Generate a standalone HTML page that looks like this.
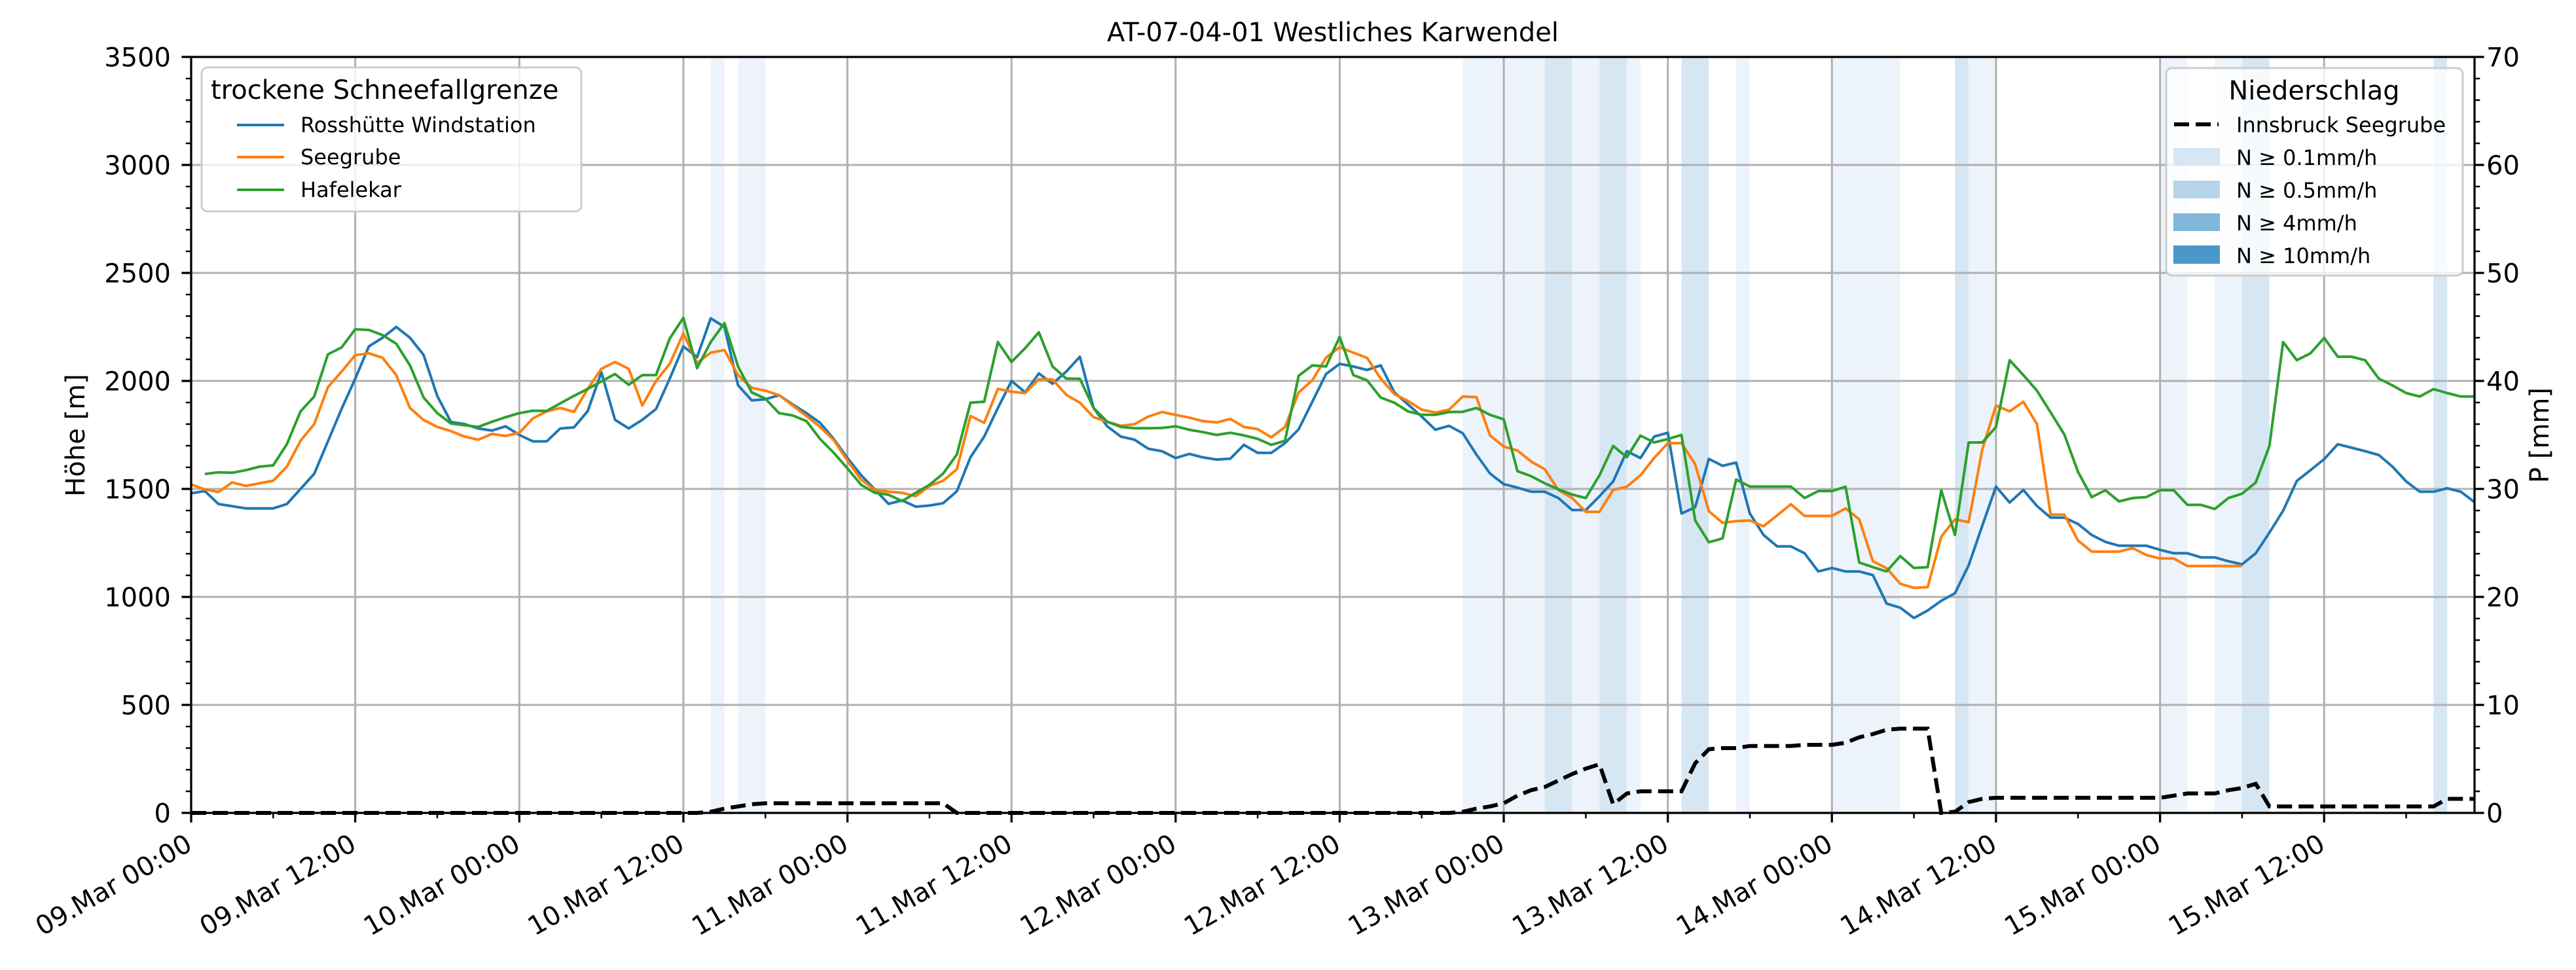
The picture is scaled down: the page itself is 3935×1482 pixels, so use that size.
<!DOCTYPE html>
<html><head><meta charset="utf-8">
<style>
html,body{margin:0;padding:0;background:#fff;}
svg text{font-family:"DejaVu Sans","Liberation Sans",sans-serif;fill:#000;}
</style></head>
<body>
<svg id="chart" width="3935" height="1477" viewBox="0 0 3935 1477" xmlns="http://www.w3.org/2000/svg">
<rect x="0" y="0" width="3935" height="1477" fill="#fff"/>
<g id="bands"></g>
<g id="grid"></g>
<g id="series"></g>
<g id="axes"></g>
<text x="2036" y="63" font-size="40" text-anchor="middle">AT-07-04-01 Westliches Karwendel</text>
<text transform="translate(129,665) rotate(-90)" font-size="40" text-anchor="middle">Höhe [m]</text>
<text transform="translate(3893,665) rotate(-90)" font-size="40" text-anchor="middle">P [mm]</text>

<g>
<rect x="308" y="103" width="580" height="220" rx="9" fill="#fff" fill-opacity="0.8" stroke="#cccccc" stroke-width="3"/>
<text x="322" y="151" font-size="40">trockene Schneefallgrenze</text>
<g><line x1="362" y1="191" x2="434" y2="191" stroke="#1f77b4" stroke-width="4"/><text x="459" y="202" font-size="32">Rosshütte Windstation</text></g>
<g><line x1="362" y1="240" x2="434" y2="240" stroke="#ff7f0e" stroke-width="4"/><text x="459" y="251" font-size="32">Seegrube</text></g>
<g><line x1="362" y1="290" x2="434" y2="290" stroke="#2ca02c" stroke-width="4"/><text x="459" y="301" font-size="32">Hafelekar</text></g>
</g>

<g>
<rect x="3309" y="104" width="453" height="317" rx="9" fill="#fff" fill-opacity="0.8" stroke="#cccccc" stroke-width="3"/>
<text x="3535" y="152" font-size="40" text-anchor="middle">Niederschlag</text>
<g><line x1="3321" y1="190" x2="3389" y2="190" stroke="#000" stroke-width="6" stroke-dasharray="23,10"/><text x="3416" y="202" font-size="32">Innsbruck Seegrube</text></g>
<g><rect x="3320" y="226" width="71" height="27" fill="#d6e6f4"/><text x="3416" y="252" font-size="32">N ≥ 0.1mm/h</text></g>
<g><rect x="3320" y="276" width="71" height="27" fill="#b5d4e9"/><text x="3416" y="302" font-size="32">N ≥ 0.5mm/h</text></g>
<g><rect x="3320" y="326" width="71" height="27" fill="#7fb6d9"/><text x="3416" y="352" font-size="32">N ≥ 4mm/h</text></g>
<g><rect x="3320" y="375" width="71" height="28" fill="#4a98c9"/><text x="3416" y="402" font-size="32">N ≥ 10mm/h</text></g>
</g>
</svg>
<script>
// hourly data, hour 0 = 09.Mar 00:00
const rosshuette = [1480,1490,1430,1420,1410,1410,1410,1430,1500,1570,1720,1870,2010,2160,2200,2250,2200,2120,1930,1810,1800,1780,1770,1790,1750,1720,1720,1780,1785,1860,2040,1820,1780,1820,1870,2010,2160,2110,2290,2250,1980,1910,1915,
1934,1891,1851,1806,1731,1643,1564,1498,1431,1447,1418,1423,1434,1489,1647,1742,1875,2000,1947,2035,1987,2043,2112,1875,1790,1742,1728,1686,1675,1643,1662,1646,1636,1640,1704,1667,1667,1712,1776,1904,2032,2079,
2067,2051,2072,1947,1891,1835,1774,1792,1758,1659,1571,1522,1506,1487,1487,1458,1402,1402,1466,1535,1675,1643,1742,1760,1386,1415,1639,1607,1622,1386,1287,1234,1234,1202,1118,1134,1118,1118,1101,969,950,902,
937,982,1017,1146,1330,1511,1437,1495,1421,1367,1367,1338,1287,1255,1237,1237,1237,1218,1202,1202,1183,1183,1165,1151,1202,1298,1399,1537,1587,1638,1707,1691,1675,1657,1603,1535,1487,1487,1503,1487,1439];
const seegrube = [1521,1498,1486,1530,1514,1526,1538,1603,1723,1800,1971,2043,2119,2128,2107,2027,1875,1819,1787,1768,1742,1728,1755,1745,1760,1827,1859,1875,1857,1963,2056,2088,2056,1886,2000,2079,2220,2083,2131,2143,2027,1968,1955,
1934,1886,1838,1787,1726,1631,1543,1495,1487,1482,1466,1514,1538,1591,1838,1806,1963,1950,1944,2008,2007,1936,1899,1832,1811,1792,1800,1835,1856,1843,1830,1814,1808,1824,1787,1777,1739,1787,1947,2003,2108,2156,
2131,2107,2011,1939,1907,1867,1854,1867,1928,1925,1747,1696,1678,1627,1591,1495,1458,1394,1394,1495,1511,1563,1643,1712,1712,1614,1397,1343,1351,1354,1327,1378,1429,1375,1375,1375,1410,1359,1165,1133,1061,1042,
1045,1279,1359,1346,1683,1886,1859,1904,1800,1381,1381,1261,1210,1210,1210,1226,1194,1178,1178,1143,1143,1143,1143,1143,
null,null,null,null,null,null,null,null,null,null,null,null,null,null,null,null,null];
const hafelekar = [null,1569,1577,1575,1587,1603,1609,1707,1859,1928,2123,2155,2239,2236,2212,2172,2072,1923,1851,1803,1795,1787,1811,1832,1851,1862,1861,1896,1931,1963,1998,2032,1982,2027,2027,2196,2292,2059,2180,2268,2067,1947,1918,
1851,1840,1814,1731,1667,1595,1519,1482,1473,1444,1482,1519,1571,1659,1899,1904,2180,2088,2152,2225,2067,2011,2010,1875,1811,1787,1781,1781,1782,1790,1774,1763,1750,1760,1748,1732,1704,1723,2024,2072,2067,2204,
2027,2003,1923,1899,1859,1843,1843,1856,1857,1875,1843,1822,1582,1559,1526,1498,1474,1458,1563,1699,1647,1747,1715,1731,1750,1354,1253,1271,1543,1511,1511,1511,1511,1458,1490,1490,1510,1159,1138,1118,1189,1134,
1138,1494,1287,1715,1715,1787,2096,2027,1955,1854,1752,1579,1462,1494,1442,1458,1462,1494,1494,1426,1426,1407,1458,1478,1530,1699,2180,2096,2128,2199,2112,2112,2096,2011,1979,1944,1928,1962,1944,1928,1928];
const precip = [0,0,0,0,0,0,0,0,0,0,0,0,0,0,0,0,0,0,0,0,0,0,0,0,0,0,0,0,0,0,0,0,0,0,0,0,0,0,0.1,0.4,0.6,0.8,
0.9,0.9,0.9,0.9,0.9,0.9,0.9,0.9,0.9,0.9,0.9,0.9,0.9,0.9,0,0,0,0,0,0,0,0,0,0,0,0,0,0,0,0,0,0,0,0,0,0,0,0,0,0,0,0,0,0,0,0,0,0,0,0,0,
0.1,0.4,0.6,0.9,1.6,2.1,2.4,3.0,3.6,4.1,4.5,0.8,1.8,2.0,2.0,2.0,2.0,4.6,5.9,6.0,6.0,6.2,6.2,6.2,6.2,6.3,6.3,6.3,6.5,7.0,7.3,7.7,7.8,7.8,7.8,
0,0.1,1.0,1.3,1.4,1.4,1.4,1.4,1.4,1.4,1.4,1.4,1.4,1.4,1.4,1.4,1.4,1.6,1.8,1.8,1.8,2.1,2.3,2.7,
0.6,0.6,0.6,0.6,0.6,0.6,0.6,0.6,0.6,0.6,0.6,0.6,0.6,1.3,1.3,1.3];
const bandStart = [38,40,93,99,101,103,105,109,113,120,129,130,144,148,150,164];
const bandEnd   = [39,42,99,101,103,105,106,111,114,125,130,132,146,150,152,165];
const bandLevel = [1,1,1,2,1,2,1,2,1,1,2,1,1,1,2,2];
const xTickLabels = ["09.Mar 00:00","09.Mar 12:00","10.Mar 00:00","10.Mar 12:00","11.Mar 00:00","11.Mar 12:00","12.Mar 00:00","12.Mar 12:00","13.Mar 00:00","13.Mar 12:00","14.Mar 00:00","14.Mar 12:00","15.Mar 00:00","15.Mar 12:00"];
const yTicks = [0,500,1000,1500,2000,2500,3000,3500];
const y2Ticks = [0,10,20,30,40,50,60,70];

const NS="http://www.w3.org/2000/svg";
const L=292,R=3780,T=87,B=1242,HMAX=167;
const X=h=>L+h*(R-L)/HMAX;
const Y=v=>B-v*(B-T)/3500;
const Y2=v=>B-v*(B-T)/70;
function mk(tag,attrs,parent){const e=document.createElementNS(NS,tag);for(const k in attrs)e.setAttribute(k,attrs[k]);parent.appendChild(e);return e;}
const gB=document.getElementById('bands'),gG=document.getElementById('grid'),gS=document.getElementById('series'),gA=document.getElementById('axes');
const bandColor={1:"#edf3fa",2:"#d7e6f3"};
bandStart.forEach((s,i)=>{
  const r=mk('rect',{x:X(s),y:T,width:X(bandEnd[i])-X(s),height:B-T,fill:bandColor[bandLevel[i]]},gB);
  
  
});
xTickLabels.forEach((lab,i)=>{
  const x=X(i*12);
  const g=mk('line',{x1:x,y1:T,x2:x,y2:B,stroke:"#b0b0b0","stroke-width":3},gG);
  
  
});
yTicks.forEach(v=>{
  const g=mk('line',{x1:L,y1:Y(v),x2:R,y2:Y(v),stroke:"#b0b0b0","stroke-width":3},gG);
  
  
});
function path(arr,fy){let d="",pen=false;arr.forEach((v,h)=>{if(v===null||v===undefined){pen=false;return;}d+=(pen?"L":"M")+X(h).toFixed(1)+","+fy(v).toFixed(1);pen=true;});return d;}
const s1=mk('path',{d:path(rosshuette,Y),fill:"none",stroke:"#1f77b4","stroke-width":4,"stroke-linejoin":"round"},gS);


const s2=mk('path',{d:path(seegrube,Y),fill:"none",stroke:"#ff7f0e","stroke-width":4,"stroke-linejoin":"round"},gS);


const s3=mk('path',{d:path(hafelekar,Y),fill:"none",stroke:"#2ca02c","stroke-width":4,"stroke-linejoin":"round"},gS);


const s4=mk('path',{d:path(precip,Y2),fill:"none",stroke:"#000","stroke-width":6,"stroke-dasharray":"23,10"},gS);


// spines
const sp=mk('rect',{x:L,y:T,width:R-L,height:B-T,fill:"none",stroke:"#000","stroke-width":3.3},gA);


// x ticks
for(let h=0;h<=HMAX;h+=6){
  const major=h%12===0;
  const t=mk('line',{x1:X(h),y1:B,x2:X(h),y2:B+(major?14.6:8.3),stroke:"#000","stroke-width":major?3.3:2.5},gA);
  
  
}
xTickLabels.forEach((lab,i)=>{
  const px=X(i*12)+4,py=1297;
  const t=mk('text',{x:px,y:py,"font-size":40,"text-anchor":"end",transform:`rotate(-30 ${px} ${py})`},gA);
  t.textContent=lab;
  
  
});
// y ticks
for(let v=0;v<=3500;v+=100){
  const major=v%500===0;
  const t=mk('line',{x1:L,y1:Y(v),x2:L-(major?14.6:8.3),y2:Y(v),stroke:"#000","stroke-width":major?3.3:2.5},gA);
  
  
}
yTicks.forEach(v=>{
  const t=mk('text',{x:261,y:Y(v)+14.5,"font-size":40,"text-anchor":"end"},gA);
  t.textContent=v;
  
  
});
for(let v=0;v<=70;v+=2){
  const major=v%10===0;
  const t=mk('line',{x1:R,y1:Y2(v),x2:R+(major?14.6:8.3),y2:Y2(v),stroke:"#000","stroke-width":major?3.3:2.5},gA);
  
  
}
y2Ticks.forEach(v=>{
  const t=mk('text',{x:3798,y:Y2(v)+14.5,"font-size":40,"text-anchor":"start"},gA);
  t.textContent=v;
  
  
});
</script>
</body></html>
